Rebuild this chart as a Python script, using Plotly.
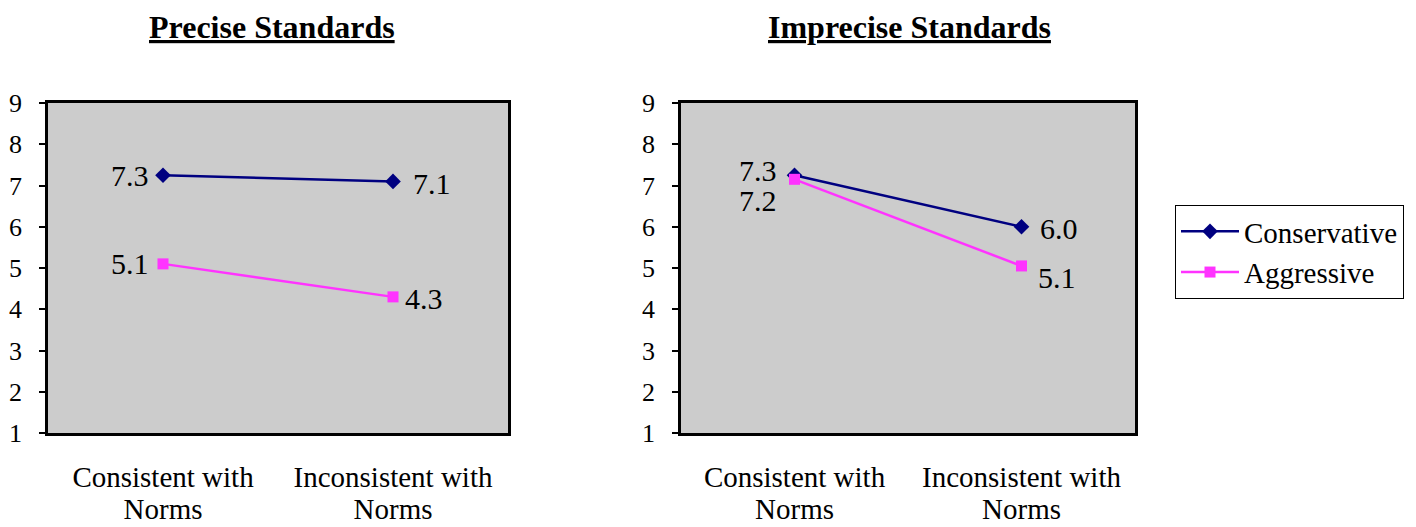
import plotly.graph_objects as go
from plotly.subplots import make_subplots

categories = ["Consistent with<br>Norms", "Inconsistent with<br>Norms"]
series_names = ["Conservative", "Aggressive"]
precise_conservative = [7.25, 7.1]
precise_aggressive = [5.1, 4.3]
imprecise_conservative = [7.25, 6.0]
imprecise_aggressive = [7.15, 5.05]
precise_cons_labels = ["7.3", "7.1"]
precise_aggr_labels = ["5.1", "4.3"]
imprecise_cons_labels = ["7.3", "6.0"]
imprecise_aggr_labels = ["7.2", "5.1"]
panel_titles = ["Precise Standards", "Imprecise Standards"]
y_ticks = [1, 2, 3, 4, 5, 6, 7, 8, 9]

# page body has an 8px margin; figure is placed so it lines up with the window
OFF = 8
W, H = 1416 - 2 * OFF, 527 - OFF
FONT = "Liberation Serif"
NAVY = "#000080"
MAGENTA = "#FF33FF"
LABEL_SIZE = 29


def px_x(x):
    return (x - OFF) / W


def px_y(y):
    return 1 - (y - OFF) / H


def big(label):
    return "<br>".join(
        "<span style='font-size:%dpx'>%s</span>" % (LABEL_SIZE, part)
        for part in label.split("<br>"))


fig = make_subplots(rows=1, cols=2)

panels = [
    (precise_conservative, precise_aggressive, precise_cons_labels, precise_aggr_labels),
    (imprecise_conservative, imprecise_aggressive, imprecise_cons_labels, imprecise_aggr_labels),
]

for i, (cons, aggr, cl, al) in enumerate(panels):
    col = i + 1
    fig.add_trace(go.Scatter(
        x=categories, y=cons, name=series_names[0], mode="lines+markers",
        line=dict(color=NAVY, width=2.5),
        marker=dict(symbol="diamond", size=12, color=NAVY),
        showlegend=(i == 1), legendrank=1), row=1, col=col)
    fig.add_trace(go.Scatter(
        x=categories, y=aggr, name=series_names[1], mode="lines+markers",
        line=dict(color=MAGENTA, width=2.5),
        marker=dict(symbol="square", size=11, color=MAGENTA),
        showlegend=(i == 1), legendrank=2), row=1, col=col)

    xref = "x" if i == 0 else "x2"
    yref = "y" if i == 0 else "y2"
    if i == 0:
        specs = [
            (categories[0], cons[0], cl[0], "right", -12, 0),
            (categories[1], cons[1], cl[1], "left", 18, -2),
            (categories[0], aggr[0], al[0], "right", -12, 0),
            (categories[1], aggr[1], al[1], "left", 10, -2),
        ]
    else:
        specs = [
            (categories[0], cons[0], cl[0], "right", -16, 5),
            (categories[1], cons[1], cl[1], "left", 16, -2),
            (categories[0], aggr[0], al[0], "right", -16, -21),
            (categories[1], aggr[1], al[1], "left", 14, -12),
        ]
    for x, y, t, anchor, xs, ys in specs:
        fig.add_annotation(x=x, y=y, xref=xref, yref=yref, text=t, showarrow=False,
                           xanchor=anchor, yanchor="middle", xshift=xs, yshift=ys,
                           font=dict(family=FONT, size=30, color="black"))

x_domains = [[px_x(48), px_x(508)], [px_x(681), px_x(1135)]]
y_domain = [px_y(433), px_y(103)]
title_x = [272, 909]

for i in range(2):
    fig.update_xaxes(domain=x_domains[i], type="category", range=[-0.5, 1.5],
                     showline=True, mirror=True, linecolor="black", linewidth=2.5,
                     showgrid=False, zeroline=False, ticks="", automargin=False,
                     tickvals=categories, ticktext=[big(c) for c in categories],
                     tickfont=dict(family=FONT, size=24.6, color="black"),
                     ticklabelstandoff=22, row=1, col=i + 1)
    fig.update_yaxes(domain=y_domain, range=[1, 9], tickvals=y_ticks,
                     showline=True, mirror=True, linecolor="black", linewidth=2.5,
                     showgrid=False, zeroline=False, ticks="outside", ticklen=6,
                     tickcolor="black", tickwidth=2, automargin=False,
                     tickfont=dict(family=FONT, size=26, color="black"),
                     ticklabelstandoff=12, row=1, col=i + 1)

    fig.add_annotation(x=px_x(title_x[i]), y=1, xref="paper", yref="paper",
                       text="<b><u>" + panel_titles[i] + "</u></b>", showarrow=False,
                       xanchor="center", yanchor="top", borderpad=0,
                       font=dict(family=FONT, size=32, color="black"))

fig.update_layout(
    width=W, height=H,
    margin=dict(l=0, r=0, t=0, b=0, autoexpand=False),
    paper_bgcolor="white",
    plot_bgcolor="#CCCCCC",
    font=dict(family=FONT, color="black"),
    legend=dict(x=px_x(1175), y=px_y(205), xanchor="left", yanchor="top",
                bordercolor="black", borderwidth=1, bgcolor="white",
                font=dict(family=FONT, size=29, color="black"),
                itemwidth=58, tracegroupgap=0),
)

fig.write_html("out.html")
